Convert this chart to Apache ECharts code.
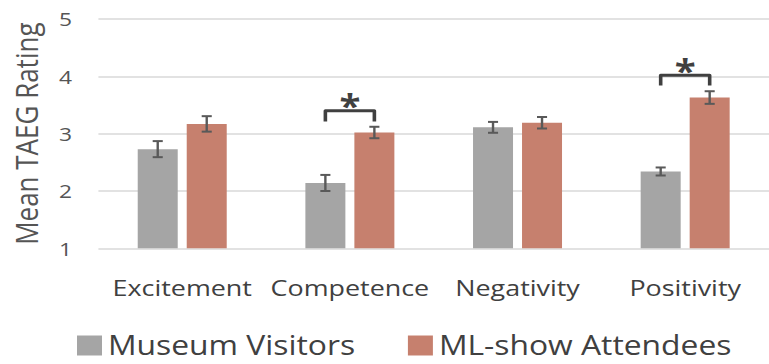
<!DOCTYPE html>
<html>
<head>
<meta charset="utf-8">
<script src="https://cdn.jsdelivr.net/npm/echarts@6/dist/echarts.min.js"></script>
<style>
  html, body { margin: 0; padding: 0; background: #fff; overflow: hidden; }
  #wrap { width: 769px; height: 364px; overflow: hidden; }
  #chart { height: 364px; transform-origin: 0 0; }
</style>
</head>
<body>
<div id="wrap"><div id="chart"></div></div>
<script>
// Mean TAEG ratings by dimension for the two audience groups
const categories = ['Excitement', 'Competence', 'Negativity', 'Positivity'];
const seriesNames = ['Museum Visitors', 'ML-show Attendees'];
const museumMeans = [2.73, 2.14, 3.11, 2.34];
const museumErr   = [0.14, 0.14, 0.095, 0.07];
const mlShowMeans = [3.17, 3.02, 3.19, 3.63];
const mlShowErr   = [0.135, 0.10, 0.10, 0.11];
// significance brackets: category, bracket top, leg end (rating units)
const sigCategories = ['Competence', 'Positivity'];
const sigTop = [3.40, 4.02];
const sigLegEnd = [3.21, 3.84];
const yTicks = [1, 2, 3, 4, 5];

// the figure is laid out in a narrower frame and widened horizontally
const SX = 1.2;
const W = 769 / SX;
const chartDom = document.getElementById('chart');
chartDom.style.width = W + 'px';
chartDom.style.transform = 'scaleX(' + SX + ')';

const FONT = '"Open Sans", sans-serif';
const GRAY = '#a5a5a5';
const RED = '#c6806e';
const BAR_W = 40 / SX;
const GAP = 9 / SX;
const HALF_STEP = (BAR_W + GAP) / 2;

function errorSeries(means, errs, side) {
  return {
    type: 'custom',
    silent: true,
    z: 5,
    data: means.map((m, i) => [i, m, errs[i]]),
    renderItem: function (params, api) {
      const i = api.value(0), m = api.value(1), e = api.value(2);
      const top = api.coord([i, m + e]);
      const bot = api.coord([i, m - e]);
      const x = top[0] + side * HALF_STEP;
      const cap = 4.2;
      const style = { stroke: '#595959', lineWidth: 2 };
      return {
        type: 'group',
        children: [
          { type: 'line', shape: { x1: x, y1: top[1], x2: x, y2: bot[1] }, style },
          { type: 'line', shape: { x1: x - cap, y1: top[1], x2: x + cap, y2: top[1] }, style },
          { type: 'line', shape: { x1: x - cap, y1: bot[1], x2: x + cap, y2: bot[1] }, style }
        ]
      };
    }
  };
}

const sigSeries = {
  type: 'custom',
  silent: true,
  z: 6,
  data: sigCategories.map((c, k) => [categories.indexOf(c), sigTop[k], sigLegEnd[k]]),
  renderItem: function (params, api) {
    const i = api.value(0);
    const t = api.coord([i, api.value(1)]);
    const b = api.coord([i, api.value(2)]);
    const xl = t[0] - HALF_STEP, xr = t[0] + HALF_STEP;
    return {
      type: 'group',
      children: [
        {
          type: 'polyline',
          shape: { points: [[xl, b[1]], [xl, t[1]], [xr, t[1]], [xr, b[1]]] },
          style: { stroke: '#404040', lineWidth: 3, fill: null, lineJoin: 'round' }
        },
        {
          type: 'text',
          x: t[0],
          y: t[1] + 11,
          style: {
            text: '*', fill: '#404040', font: 'bold 32px ' + FONT,
            align: 'center', verticalAlign: 'bottom'
          }
        }
      ]
    };
  }
};

const chart = echarts.init(chartDom, null, { renderer: 'svg', width: W, height: 364 });
chart.setOption({
  animation: false,
  textStyle: { fontFamily: FONT },
  grid: { left: 97 / SX, width: 682 / SX, top: 19, bottom: 364 - 248.3, containLabel: false },
  legend: {
    data: seriesNames,
    left: 77 / SX - 5,
    top: 332,
    padding: [0, 5, 0, 5],
    itemWidth: 25 / SX,
    itemHeight: 20,
    itemGap: 44,
    icon: 'rect',
    textStyle: { fontSize: 26.5, lineHeight: 26, color: '#404040', fontFamily: FONT }
  },
  xAxis: {
    type: 'category',
    data: categories,
    axisLine: { show: false },
    axisTick: { show: false },
    axisLabel: { interval: 0, fontSize: 22.4, color: '#404040', margin: 28, fontFamily: FONT }
  },
  yAxis: {
    type: 'value',
    min: yTicks[0],
    max: yTicks[yTicks.length - 1],
    interval: 1,
    name: 'Mean TAEG Rating',
    nameLocation: 'middle',
    nameGap: 48,
    nameTextStyle: { fontSize: 26, color: '#555555', fontFamily: FONT },
    axisLine: { show: false },
    axisTick: { show: false },
    splitLine: { lineStyle: { color: '#d9d9d9', width: 1.5 } },
    axisLabel: { fontSize: 19, color: '#555555', margin: 22, fontFamily: FONT }
  },
  series: [
    {
      name: seriesNames[0], type: 'bar', data: museumMeans,
      barWidth: BAR_W, barGap: (GAP / BAR_W * 100) + '%',
      itemStyle: { color: GRAY }
    },
    {
      name: seriesNames[1], type: 'bar', data: mlShowMeans,
      barWidth: BAR_W,
      itemStyle: { color: RED }
    },
    errorSeries(museumMeans, museumErr, -1),
    errorSeries(mlShowMeans, mlShowErr, 1),
    sigSeries
  ]
});
</script>
</body>
</html>
